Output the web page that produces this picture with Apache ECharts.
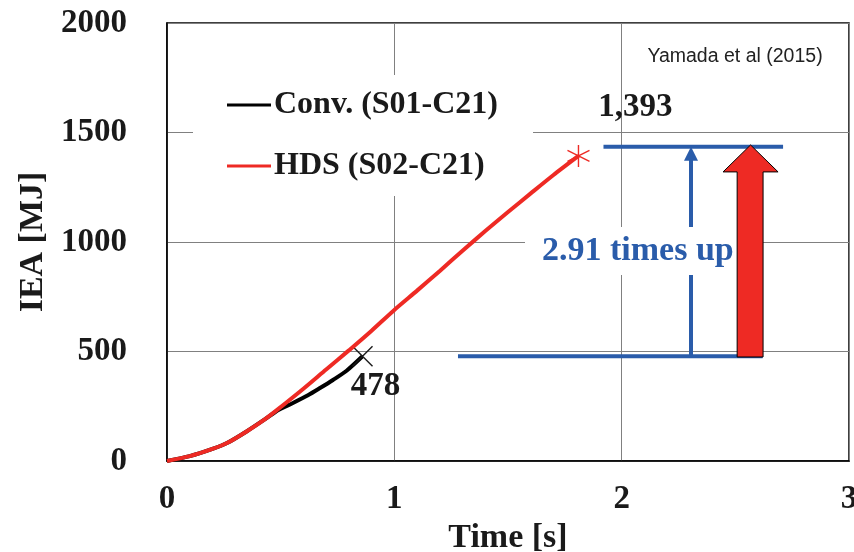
<!DOCTYPE html>
<html>
<head>
<meta charset="utf-8">
<title>IEA</title>
<script src="https://cdn.jsdelivr.net/npm/echarts@6/dist/echarts.min.js"></script>
<style>
  html, body { margin: 0; padding: 0; background: #fff; }
  #main { width: 854px; height: 552px; }
</style>
</head>
<body>
<div id="main"></div>
<script>
// data
var convTime = [0, 0.1, 0.2, 0.264, 0.35, 0.43, 0.49, 0.554, 0.62, 0.673, 0.73, 0.79, 0.86];
var convIea  = [0, 22, 55, 82, 135, 190, 233, 265, 300, 333, 370, 412, 478];
var hdsTime  = [0, 0.1, 0.2, 0.264, 0.35, 0.43, 0.49, 0.6, 0.7, 0.8, 0.9, 1.0, 1.1, 1.2, 1.3, 1.4, 1.5, 1.6, 1.7, 1.81];
var hdsIea   = [0, 22, 55, 82, 135, 190, 238, 330, 418, 505, 595, 690, 778, 868, 960, 1050, 1137, 1222, 1306, 1393];
var xTicks = [0, 1, 2, 3];
var yTicks = [0, 500, 1000, 1500, 2000];
var seriesNames = ['Conv. (S01-C21)', 'HDS (S02-C21)'];
var endLabels = ['478', '1,393'];
var ratioText = '2.91 times up';
var sourceText = 'Yamada et al (2015)';
// annotation anchors (data units)
var baseLine = [[1.28, 478], [2.62, 478]];
var topLine = [[1.92, 1435], [2.71, 1435]];
var blueArrowX = 2.305;
var redArrowBody = [2.508, 2.622];
var redArrowHead = [2.446, 2.688];
var redArrowLevels = [475, 1320, 1443];

var RED = '#ee2a24', BLUE = '#2a5caa', INK = '#1a1a1a';
var SERIF = '"Liberation Serif", "Times New Roman", serif';

function pairs(xs, ys) {
    var out = [];
    for (var i = 0; i < xs.length; i++) out.push([xs[i], ys[i]]);
    return out;
}
var convData = pairs(convTime, convIea);
var hdsData = pairs(hdsTime, hdsIea);
// end markers
convData[convData.length - 1] = {
    value: convData[convData.length - 1],
    symbol: 'path://M0,0L10,10M10,0L0,10',
    symbolSize: 20,
    itemStyle: { color: 'none', borderColor: INK, borderWidth: 1.4 }
};
hdsData[hdsData.length - 1] = {
    value: hdsData[hdsData.length - 1],
    symbol: 'path://M10,0L10,20M1.3,5L18.7,15M1.3,15L18.7,5',
    symbolSize: 22,
    itemStyle: { color: 'none', borderColor: RED, borderWidth: 1.4 }
};

var chart = echarts.init(document.getElementById('main'), null, { renderer: 'canvas' });
var option = {
    animation: false,
    backgroundColor: '#fff',
    grid: { left: 167, right: 5, top: 23, bottom: 91, show: true, borderColor: '#000', borderWidth: 1.5,
        containLabel: false, outerBoundsMode: 'none' },
    legend: {
        data: seriesNames,
        orient: 'vertical',
        left: 193, top: 75,
        padding: [14, 35, 14, 34],
        backgroundColor: '#fff',
        itemGap: 29,
        itemWidth: 44, itemHeight: 3,
        icon: 'rect',
        textStyle: { fontFamily: SERIF, fontWeight: 'bold', fontSize: 32, color: INK, lineHeight: 30, padding: [0, 0, 0, -2] }
    },
    xAxis: {
        type: 'value', min: 0, max: 3, interval: 1,
        name: 'Time [s]', nameLocation: 'middle', nameGap: 50,
        nameTextStyle: { fontFamily: SERIF, fontWeight: 'bold', fontSize: 34, color: INK },
        axisLine: { show: true, lineStyle: { color: '#000', width: 1.5 } },
        axisTick: { show: false },
        axisLabel: { margin: 22, fontFamily: SERIF, fontWeight: 'bold', fontSize: 33, color: INK,
            formatter: function (v) { return xTicks.indexOf(v) >= 0 ? String(v) : ''; } },
        splitLine: { show: true, lineStyle: { color: '#808080', width: 1 } }
    },
    yAxis: {
        type: 'value', min: 0, max: 2000, interval: 500,
        name: 'IEA [MJ]', nameLocation: 'middle', nameGap: 112,
        nameTextStyle: { fontFamily: SERIF, fontWeight: 'bold', fontSize: 34, color: INK },
        axisLine: { show: true, lineStyle: { color: '#000', width: 1.5 } },
        axisTick: { show: false },
        axisLabel: { margin: 40, fontFamily: SERIF, fontWeight: 'bold', fontSize: 33, color: INK,
            formatter: function (v) { return yTicks.indexOf(v) >= 0 ? String(v) : ''; } },
        splitLine: { show: true, lineStyle: { color: '#808080', width: 1 } }
    },
    series: [
        {
            name: seriesNames[0], type: 'line', data: convData,
            symbol: 'none', showSymbol: true, smooth: 0.25,
            color: '#000',
            lineStyle: { color: '#000', width: 4 },
            z: 3
        },
        {
            name: seriesNames[1], type: 'line', data: hdsData,
            symbol: 'none', showSymbol: true, smooth: 0.25,
            color: RED,
            lineStyle: { color: RED, width: 4 },
            z: 4
        }
    ]
};
chart.setOption(option);

// annotations placed through the chart's own scales
function px(p) { return chart.convertToPixel({ gridIndex: 0 }, p); }
var b0 = px(baseLine[0]), b1 = px(baseLine[1]);
var t0 = px(topLine[0]), t1 = px(topLine[1]);
var ab = px([blueArrowX, baseLine[0][1]]), at = px([blueArrowX, topLine[0][1]]);
var rb0 = px([redArrowBody[0], redArrowLevels[0]]);
var rb1 = px([redArrowBody[1], redArrowLevels[1]]);
var rh0 = px([redArrowHead[0], redArrowLevels[1]]);
var rh1 = px([redArrowHead[1], redArrowLevels[1]]);
var rTip = px([(redArrowHead[0] + redArrowHead[1]) / 2, redArrowLevels[2]]);
var convEnd = px([convTime[convTime.length - 1], convIea[convIea.length - 1]]);
var hdsEnd = px([hdsTime[hdsTime.length - 1], hdsIea[hdsIea.length - 1]]);

chart.setOption({
    graphic: [
        { type: 'line', z: 20, shape: { x1: b0[0], y1: b0[1], x2: b1[0], y2: b1[1] }, style: { stroke: BLUE, lineWidth: 4 } },
        { type: 'line', z: 20, shape: { x1: t0[0], y1: t0[1], x2: t1[0], y2: t1[1] }, style: { stroke: BLUE, lineWidth: 4 } },
        { type: 'line', z: 20, shape: { x1: ab[0], y1: ab[1], x2: at[0], y2: at[1] + 10 }, style: { stroke: BLUE, lineWidth: 4 } },
        { type: 'polygon', z: 20, shape: { points: [[at[0], at[1]], [at[0] - 7, at[1] + 14], [at[0] + 7, at[1] + 14]] }, style: { fill: BLUE } },
        {
            type: 'text', z: 30, x: 525, y: 227,
            style: { text: ratioText, fill: BLUE, font: 'bold 34px ' + SERIF, backgroundColor: '#fff', padding: [7, 14, 7, 17] }
        },
        {
            type: 'polygon', z: 40,
            shape: { points: [
                [rb0[0], rb0[1]], [rb0[0], rb1[1]], [rh0[0], rh0[1]], [rTip[0], rTip[1]],
                [rh1[0], rh1[1]], [rb1[0], rb1[1]], [rb1[0], rb0[1]]
            ] },
            style: { fill: RED, stroke: '#000', lineWidth: 1 }
        },
        {
            type: 'text', z: 30, x: convEnd[0] + 13, y: convEnd[1] + 30,
            style: { text: endLabels[0], fill: INK, font: 'bold 33px ' + SERIF, align: 'center', verticalAlign: 'middle' }
        },
        {
            type: 'text', z: 30, x: hdsEnd[0] + 57, y: hdsEnd[1] - 48,
            style: { text: endLabels[1], fill: INK, font: 'bold 33px ' + SERIF, align: 'center', verticalAlign: 'middle' }
        },
        {
            type: 'text', z: 30, x: 735, y: 57,
            style: { text: sourceText, fill: '#222', font: '19.5px "Liberation Sans", Arial, sans-serif', align: 'center', verticalAlign: 'middle' }
        }
    ]
});
window.addEventListener('resize', chart.resize);
</script>
</body>
</html>
